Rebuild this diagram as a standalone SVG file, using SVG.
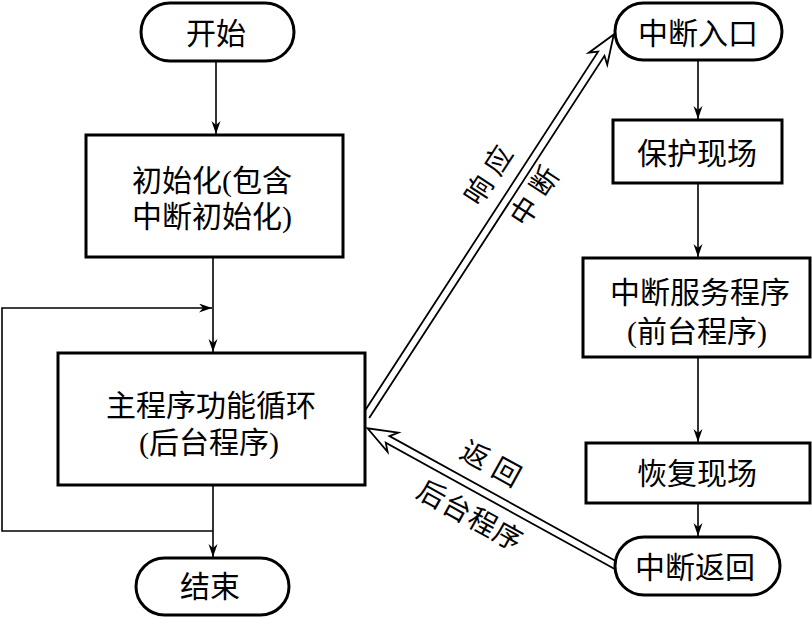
<svg xmlns="http://www.w3.org/2000/svg" width="812" height="617" viewBox="0 0 812 617">
<defs>
<marker id="ah" markerUnits="userSpaceOnUse" markerWidth="14" markerHeight="10" refX="13" refY="4.5" orient="auto">
<path d="M0,0 L13,4.5 L0,9 L4,4.5 z" fill="#000"/>
</marker>
<style>
.box{fill:#fff;stroke:#000;stroke-width:3}
.term{fill:#fff;stroke:#000;stroke-width:3}
.ln{fill:none;stroke:#000;stroke-width:1.6}
.hol{fill:#fff;stroke:#000;stroke-width:1.8;stroke-linejoin:miter}
text{font-family:"Liberation Serif","Noto Sans CJK SC",serif;font-size:30px;fill:#000;text-anchor:middle;dominant-baseline:central}
.lbl{font-size:28px;letter-spacing:8px}
.lbl2{font-size:28px;letter-spacing:1px}
</style>
</defs>
<rect width="812" height="617" fill="#fff"/>
<g id="connectors">
<path class="ln" d="M216,61 V134" marker-end="url(#ah)"/>
<path class="ln" d="M213,257 V352" marker-end="url(#ah)"/>
<path class="ln" d="M213,531 H2 V308 H212" marker-end="url(#ah)"/>
<path class="ln" d="M213,485 V557" marker-end="url(#ah)"/>
<path class="ln" d="M698,60 V119" marker-end="url(#ah)"/>
<path class="ln" d="M698,183 V257" marker-end="url(#ah)"/>
<path class="ln" d="M698,357 V442" marker-end="url(#ah)"/>
<path class="ln" d="M698,503 V536" marker-end="url(#ah)"/>
<g transform="translate(366,416) rotate(-57)">
<path class="hol" d="M0,-3.8 L432,-3.8 L426,-11 L455,0 L426,11 L432,3.8 L0,3.8"/>
</g>
<g transform="translate(617,566) rotate(-151.1)">
<path class="hol" d="M0,-3.8 L262,-3.8 L256,-11 L285,0 L256,11 L262,3.8 L0,3.8"/>
</g>
<text class="lbl" transform="translate(491,172) rotate(-57)">响应</text>
<text class="lbl" transform="translate(537,193) rotate(-57)">中断</text>
<text class="lbl" transform="translate(494,466) rotate(28.9)">返回</text>
<text class="lbl2" transform="translate(470,516) rotate(28.9)">后台程序</text>
</g>
<g id="start">
<rect class="term" x="141" y="3" width="153" height="58" rx="29"/>
<text x="216" y="33">开始</text>
</g>
<g id="init">
<rect class="box" x="86" y="135" width="257" height="122"/>
<text x="212" y="180">初始化(包含</text>
<text x="212" y="216">中断初始化)</text>
</g>
<g id="main">
<rect class="box" x="58" y="353" width="307" height="132"/>
<text x="211" y="405">主程序功能循环</text>
<text x="209" y="442">(后台程序)</text>
</g>
<g id="end">
<rect class="term" x="136" y="558" width="153" height="57" rx="28.5"/>
<text x="210" y="586">结束</text>
</g>
<g id="intEntry">
<rect class="term" x="615" y="3" width="167" height="57" rx="28.5"/>
<text x="698" y="33">中断入口</text>
</g>
<g id="save">
<rect class="box" x="613" y="120" width="169" height="63"/>
<text x="697" y="153">保护现场</text>
</g>
<g id="service">
<rect class="box" x="583" y="258" width="227" height="99"/>
<text x="700" y="292">中断服务程序</text>
<text x="697" y="331">(前台程序)</text>
</g>
<g id="restore">
<rect class="box" x="586" y="443" width="224" height="60"/>
<text x="697" y="473">恢复现场</text>
</g>
<g id="intReturn">
<rect class="term" x="615" y="537" width="165" height="58" rx="29"/>
<text x="695" y="567">中断返回</text>
</g>
</svg>
